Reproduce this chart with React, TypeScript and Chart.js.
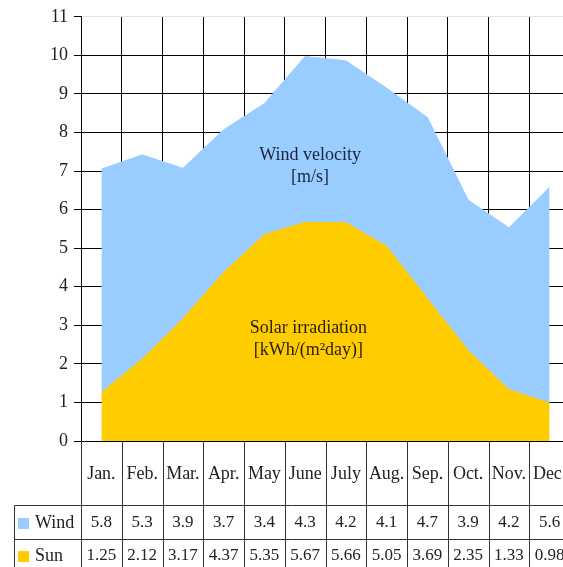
import React, { useEffect, useRef } from 'react';
import { Chart, registerables } from 'chart.js';

Chart.register(...registerables);

const months = ['Jan.', 'Feb.', 'Mar.', 'Apr.', 'May', 'June', 'July', 'Aug.', 'Sep.', 'Oct.', 'Nov.', 'Dec.'];
const windValues = [5.8, 5.3, 3.9, 3.7, 3.4, 4.3, 4.2, 4.1, 4.7, 3.9, 4.2, 5.6];
const sunValues = [1.25, 2.12, 3.17, 4.37, 5.35, 5.67, 5.66, 5.05, 3.69, 2.35, 1.33, 0.98];
const seriesNames = ['Wind', 'Sun'];
const windLabel = ['Wind velocity', '[m/s]'];
const sunLabel = ['Solar irradiation', '[kWh/(m\u00B2day)]'];
const yMin = 0;
const yMax = 11;

const WIND_COLOR = '#99CCFF';
const SUN_COLOR = '#FFCC00';
const FONT = "'Liberation Serif', 'Times New Roman', serif";

const labelPlugin = {
  id: 'areaLabels',
  afterDatasetsDraw(chart: any) {
    const { ctx, scales } = chart;
    const x = scales.x;
    const y = scales.y;
    ctx.save();
    ctx.fillStyle = '#1c2340';
    ctx.font = `18px ${FONT}`;
    ctx.textAlign = 'center';
    ctx.textBaseline = 'middle';
    const cx = x.getPixelForValue(5.12);
    ctx.fillText(windLabel[0], cx, y.getPixelForValue(7.4));
    ctx.fillText(windLabel[1], cx, y.getPixelForValue(6.83));
    ctx.fillStyle = '#2a2010';
    const cx2 = x.getPixelForValue(5.08);
    ctx.fillText(sunLabel[0], cx2, y.getPixelForValue(2.92));
    ctx.fillText(sunLabel[1], cx2, y.getPixelForValue(2.34));
    ctx.restore();
  },
};

const tablePlugin = {
  id: 'dataTable',
  afterDraw(chart: any) {
    const { ctx, chartArea, scales, height } = chart;
    const x = scales.x;
    const top = chartArea.bottom;
    const n = months.length;
    const edges: number[] = [];
    for (let i = 0; i <= n; i++) edges.push(Math.round(x.getPixelForValue(i - 0.5)) + 0.5);
    const leftEdge = 14.5;
    const rightEdge = chart.width;
    const row1 = Math.round(top + 64) + 0.5;
    const row2 = Math.round(top + 98) + 0.5;

    ctx.save();
    ctx.strokeStyle = '#333';
    ctx.lineWidth = 1;
    ctx.beginPath();
    for (const e of edges) {
      ctx.moveTo(e, top);
      ctx.lineTo(e, height);
    }
    ctx.moveTo(leftEdge, row1);
    ctx.lineTo(leftEdge, height);
    ctx.moveTo(leftEdge, row1);
    ctx.lineTo(rightEdge, row1);
    ctx.moveTo(leftEdge, row2);
    ctx.lineTo(rightEdge, row2);
    ctx.stroke();

    ctx.fillStyle = '#222';
    ctx.textAlign = 'center';
    ctx.textBaseline = 'middle';
    const monthY = top + 33;
    const windY = top + 82;
    const sunY = top + 115;
    for (let i = 0; i < n; i++) {
      const cx = x.getPixelForValue(i);
      ctx.font = `18px ${FONT}`;
      ctx.fillText(months[i], cx, monthY);
      ctx.font = `17px ${FONT}`;
      ctx.fillText(String(windValues[i]), cx, windY);
      ctx.fillText(String(sunValues[i]), cx, sunY);
    }

    ctx.textAlign = 'left';
    ctx.fillStyle = WIND_COLOR;
    ctx.fillRect(18, windY - 5, 11, 11);
    ctx.fillStyle = SUN_COLOR;
    ctx.fillRect(18, sunY - 5, 11, 11);
    ctx.fillStyle = '#222';
    ctx.font = `18px ${FONT}`;
    ctx.fillText(seriesNames[0], 35, windY);
    ctx.fillText(seriesNames[1], 35, sunY);
    ctx.restore();
  },
};

export default function App() {
  const canvasRef = useRef<HTMLCanvasElement | null>(null);

  useEffect(() => {
    const canvas = canvasRef.current;
    if (!canvas) return;
    const chart = new Chart(canvas, {
      type: 'line',
      data: {
        labels: months,
        datasets: [
          {
            label: seriesNames[1],
            data: sunValues,
            backgroundColor: SUN_COLOR,
            borderColor: SUN_COLOR,
            borderWidth: 1,
            pointRadius: 0,
            tension: 0,
            fill: 'origin',
          },
          {
            label: seriesNames[0],
            data: windValues,
            backgroundColor: WIND_COLOR,
            borderColor: WIND_COLOR,
            borderWidth: 1,
            pointRadius: 0,
            tension: 0,
            fill: '-1',
          },
        ],
      },
      options: {
        responsive: false,
        animation: false,
        devicePixelRatio: 1,
        layout: { padding: { top: 16, left: 0, right: 0, bottom: 0 } },
        plugins: {
          legend: { display: false },
          tooltip: { enabled: false },
        },
        scales: {
          x: {
            type: 'category',
            offset: true,
            grid: {
              offset: true,
              color: '#000',
              lineWidth: 1,
              drawTicks: false,
            },
            border: { color: '#000', width: 1 },
            ticks: { display: false },
            afterFit(scale: any) {
              scale.height = 126;
            },
          },
          y: {
            stacked: true,
            min: yMin,
            max: yMax,
            grid: {
              color: (c: any) => (c.tick && c.tick.value === yMax ? '#e4e4e4' : '#000'),
              tickColor: '#000',
              tickLength: 7,
              lineWidth: 1,
            },
            border: { color: '#000', width: 1 },
            ticks: {
              stepSize: 1,
              padding: 6,
              color: '#222',
              font: { family: FONT, size: 18 },
            },
            afterFit(scale: any) {
              scale.width = 81;
            },
          },
        },
      },
      plugins: [labelPlugin, tablePlugin],
    });
    return () => chart.destroy();
  }, []);

  return (
    <div style={{ position: 'absolute', left: 0, top: 0, width: 563, height: 567, overflow: 'hidden', background: '#fff' }}>
      <canvas ref={canvasRef} width={570} height={567} style={{ display: 'block', width: 570, height: 567 }} />
    </div>
  );
}
